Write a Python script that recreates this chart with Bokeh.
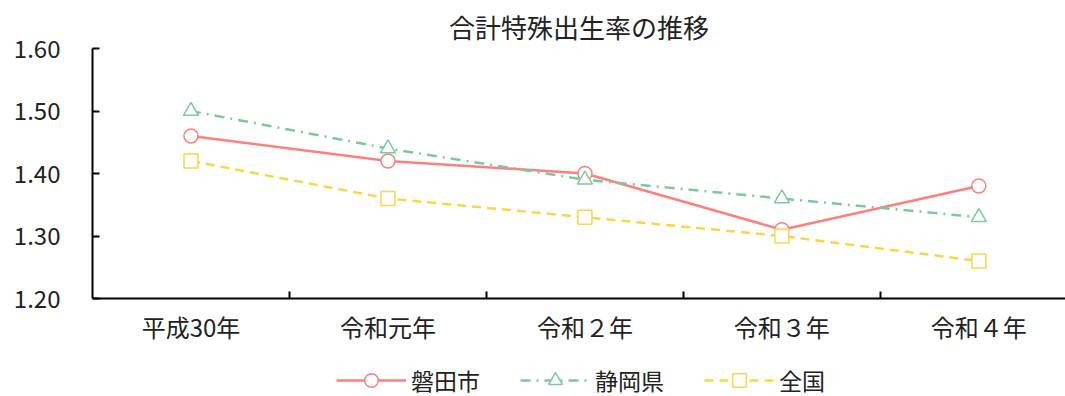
from bokeh.plotting import figure
from bokeh.models import ColumnDataSource, FixedTicker, Legend, LegendItem, Range1d
from bokeh.embed import file_html
from bokeh.resources import INLINE

categories = ["平成30年", "令和元年", "令和２年", "令和３年", "令和４年"]
iwata = [1.46, 1.42, 1.40, 1.31, 1.38]
shizuoka = [1.50, 1.44, 1.39, 1.36, 1.33]
zenkoku = [1.42, 1.36, 1.33, 1.30, 1.26]
series_names = ["磐田市", "静岡県", "全国"]
y_ticks = [1.20, 1.30, 1.40, 1.50, 1.60]

FONT = "Noto Sans CJK JP"
xs = list(range(len(categories)))

# frame extends below the x axis so that the legend can sit inside it
FRAME_H = 348
y_lo = 1.20 - 98 * (0.40 / 250)

p = figure(frame_width=973, frame_height=FRAME_H, output_backend="svg", toolbar_location=None,
           x_range=Range1d(-0.5, 4.44), y_range=Range1d(y_lo, 1.60),
           min_border_left=92, min_border_right=0, min_border_top=48, min_border_bottom=0)
p.title.text = "合計特殊出生率の推移"
p.title.align = "center"
p.title.text_font = FONT
p.title.text_font_size = "26px"
p.title.text_font_style = "normal"
p.title.text_color = "#222222"
p.title.text_line_height = 1.0
p.title.standoff = 8

p.grid.visible = False
p.outline_line_color = None
p.background_fill_color = "white"
p.border_fill_color = "white"

# y axis
p.yaxis.ticker = FixedTicker(ticks=y_ticks)
p.yaxis.bounds = (1.20, 1.60)
p.yaxis.major_label_overrides = {t: f"{t:.2f}" for t in y_ticks}
p.yaxis.major_tick_in = 7
p.yaxis.major_tick_out = 0
p.yaxis.minor_tick_line_color = None
p.yaxis.axis_line_width = 2
p.yaxis.major_tick_line_width = 2
p.yaxis.axis_line_color = "black"
p.yaxis.major_label_text_font = FONT
p.yaxis.major_label_text_font_size = "24px"
p.yaxis.major_label_text_color = "#222222"
p.yaxis.major_label_standoff = 32

# x axis
p.xaxis.fixed_location = 1.20
p.xaxis.ticker = FixedTicker(ticks=xs, minor_ticks=[0.5, 1.5, 2.5, 3.5])
p.xaxis.major_label_overrides = {i: c for i, c in enumerate(categories)}
p.xaxis.major_tick_line_color = None
p.xaxis.minor_tick_in = 7
p.xaxis.minor_tick_out = 0
p.xaxis.minor_tick_line_width = 2
p.xaxis.minor_tick_line_color = "black"
p.xaxis.axis_line_width = 2
p.xaxis.axis_line_color = "black"
p.xaxis.major_label_text_font = FONT
p.xaxis.major_label_text_font_size = "24px"
p.xaxis.major_label_text_color = "#222222"
p.xaxis.major_label_standoff = 4

colors = ["#FF7F7F", "#7CC9A0", "#FFD447"]
dashes = ["solid", "10 6 2 6", "9 6"]
data = [iwata, shizuoka, zenkoku]
markers = ["circle", "triangle", "square"]

items = []
for name, vals, c, d, m in zip(series_names, data, colors, dashes, markers):
    src = ColumnDataSource(dict(x=xs, y=vals))
    r1 = p.line("x", "y", source=src, line_color=c, line_width=2.5, line_dash=d)
    r2 = p.scatter("x", "y", source=src, marker=m, size=14 if m != "triangle" else 15,
                   fill_color="white", line_color=c, line_width=1.5)
    items.append(LegendItem(label=name, renderers=[r1, r2]))

legend = Legend(items=items, orientation="horizontal", location=(244, -1),
                label_text_font=FONT, label_text_font_size="23px", label_text_color="#222222",
                glyph_width=70, glyph_height=34, spacing=40, label_standoff=5,
                border_line_color=None, background_fill_alpha=0, margin=0, padding=0)
p.add_layout(legend, "center")

open("out.html", "w").write(file_html(p, INLINE))
